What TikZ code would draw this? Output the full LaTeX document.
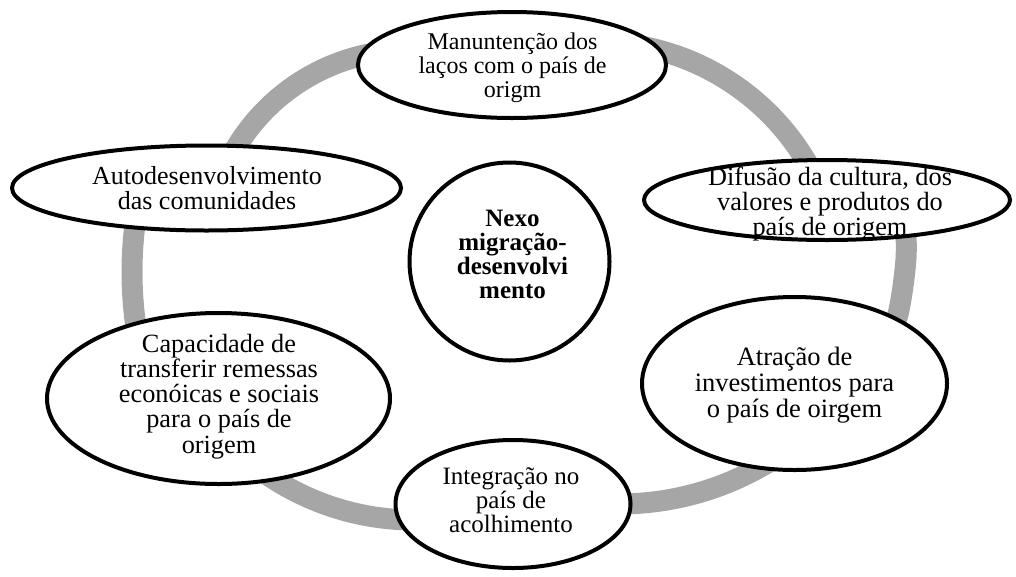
\documentclass[tikz,border=0pt]{standalone}
\usepackage{fontspec}
\setmainfont{Liberation Serif}
\usetikzlibrary{shapes.geometric}
\definecolor{ringgray}{RGB}{166,166,166}
\begin{document}
\begin{tikzpicture}[x=1pt,y=-1pt,
  bubble/.style={draw=black, line width=4pt, fill=white, ellipse, inner sep=0pt, outer sep=0pt},
  lbl/.style={align=center, inner sep=0pt, text=black},
  ring/.style={draw=ringgray, line width=21pt}]
\useasboundingbox (0,0) rectangle (1016,576);
% gray cycle ring, one arc between each pair of neighbouring bubbles
\draw[ring] plot[domain=205:268, samples=40, variable=\t] ({409+202*cos(\t)},{252+202*sin(\t)});
\draw[ring] plot[domain=278:335, samples=40, variable=\t] ({596+245*cos(\t)},{287+245*sin(\t)});
\draw[ring] plot[smooth, tension=0.6] coordinates {(905,215) (906,258) (899,310) (889,340)};
\draw[ring] plot[domain=55:95, samples=40, variable=\t] ({619+289*cos(\t)},{215+289*sin(\t)});
\draw[ring] plot[domain=85:125, samples=40, variable=\t] ({414+261*cos(\t)},{259+261*sin(\t)});
\draw[ring] plot[domain=165:195, samples=40, variable=\t] ({523+391*cos(\t)},{272+391*sin(\t)});
% bubbles
\node[bubble, minimum width=308pt, minimum height=106pt] (n1) at (512,65) {};
\node[bubble, minimum width=389pt, minimum height=85pt] (n2) at (206.5,188) {};
\node[bubble, minimum width=366pt, minimum height=80pt] (n3) at (827,200) {};
\node[bubble, minimum width=200pt, minimum height=198pt] (n0) at (509.5,261.5) {};
\node[bubble, minimum width=343pt, minimum height=171pt] (n5) at (218.5,398.5) {};
\node[bubble, minimum width=305pt, minimum height=173pt] (n6) at (794.5,383.5) {};
\node[bubble, minimum width=235pt, minimum height=128pt] (n7) at (513,504) {};
% texts
\node[lbl, font=\fontsize{24}{24}\selectfont] (t1) at (512.5,67.5) {Manuntenção dos\\laços com o país de\\origm};
\node[lbl, font=\fontsize{26}{25}\selectfont] (t2) at (207,188.3) {Autodesenvolvimento\\das comunidades};
\node[lbl, font=\fontsize{26.3}{25}\selectfont] (t3) at (830,204) {Difusão da cultura, dos\\valores e produtos do\\país de origem};
\node[lbl, font=\bfseries\fontsize{25}{24}\selectfont] (t0) at (512.5,254) {Nexo\\migração-\\desenvolvi\\mento};
\node[lbl, font=\fontsize{26.3}{25.2}\selectfont] (t5) at (219,396.4) {Capacidade de\\transferir remessas\\econóicas e sociais\\para o país de\\origem};
\node[lbl, font=\fontsize{26.5}{26}\selectfont] (t6) at (794.5,385.5) {Atração de\\investimentos para\\o país de oirgem};
\node[lbl, font=\fontsize{25}{24}\selectfont] (t7) at (511,500.3) {Integração no\\país de\\acolhimento};
\end{tikzpicture}
\end{document}
